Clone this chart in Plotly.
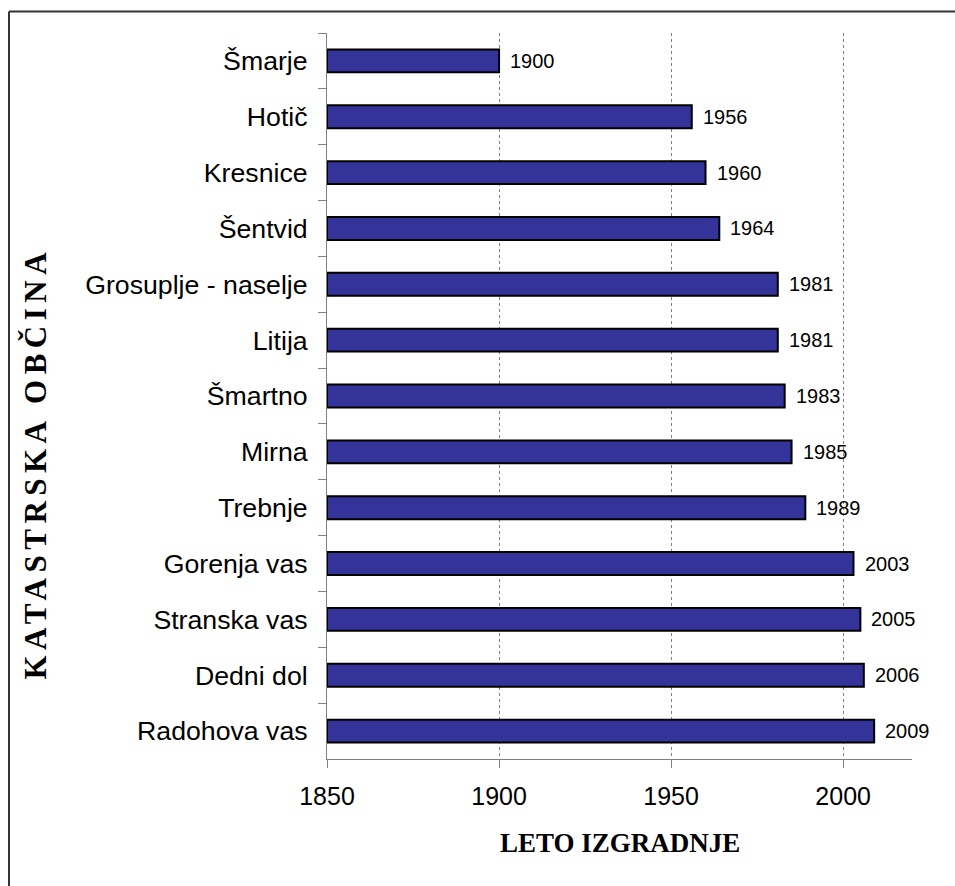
import plotly.graph_objects as go

# Cadastral municipalities, top to bottom, with year of construction
obcine = ["Šmarje", "Hotič", "Kresnice", "Šentvid", "Grosuplje - naselje",
          "Litija", "Šmartno", "Mirna", "Trebnje", "Gorenja vas",
          "Stranska vas", "Dedni dol", "Radohova vas"]
leta = [1900, 1956, 1960, 1964, 1981, 1981, 1983, 1985, 1989, 2003,
        2005, 2006, 2009]
x_ticks = [1850, 1900, 1950, 2000]
x_min, x_max = 1850, 2020

W, H = 955, 886
ML, MR, MT, MB = 327, 43, 33, 127
PW, PH = W - ML - MR, H - MT - MB


def px_x(p):
    return (p - ML) / PW


def px_y(p):
    return (H - MB - p) / PH


fig = go.Figure()
fig.add_trace(go.Bar(
    y=obcine,
    x=[v - x_min for v in leta],
    base=[x_min] * len(leta),
    orientation="h",
    marker=dict(color="#333399", line=dict(color="black", width=2)),
    hoverinfo="skip",
))

# value labels to the right of each bar
for name, v in zip(obcine, leta):
    fig.add_annotation(x=v, y=name, text=str(v), showarrow=False,
                       xanchor="left", xshift=9,
                       font=dict(family="Liberation Sans", size=20, color="black"))

# axis titles
fig.add_annotation(xref="paper", yref="paper", x=px_x(620), y=px_y(860),
                   text="<b>LETO IZGRADNJE</b>", showarrow=False,
                   font=dict(family="Liberation Serif", size=27, color="black"))
fig.add_annotation(xref="paper", yref="paper", x=px_x(15), y=px_y(463),
                   text='<b><span style="letter-spacing:5.5px">KATASTRSKA OBČINA</span></b>',
                   showarrow=False, textangle=-90,
                   font=dict(family="Liberation Serif", size=31, color="black"))

# outer frame (left and top edges)
fig.add_shape(type="line", xref="paper", yref="paper",
              x0=px_x(9), y0=px_y(11.5), x1=px_x(W + 5), y1=px_y(11.5),
              line=dict(color="#333333", width=2))
fig.add_shape(type="line", xref="paper", yref="paper",
              x0=px_x(9), y0=px_y(11.5), x1=px_x(9), y1=px_y(H + 5),
              line=dict(color="#333333", width=2))

fig.update_layout(
    width=W, height=H,
    margin=dict(l=ML, r=MR, t=MT, b=MB, pad=0),
    paper_bgcolor="white", plot_bgcolor="white",
    bargap=0.59,
    showlegend=False,
    font=dict(family="Liberation Sans", color="black"),
)
fig.update_xaxes(
    range=[x_min, x_max], tickvals=x_ticks,
    showgrid=True, gridcolor="#808080", griddash="dot", gridwidth=1,
    showline=True, linecolor="#808080", linewidth=1,
    ticks="outside", ticklen=8, tickcolor="#808080",
    ticklabelstandoff=7,
    tickfont=dict(family="Liberation Sans", size=25, color="black"),
    zeroline=False,
)
fig.update_yaxes(
    type="category", categoryorder="array", categoryarray=obcine,
    autorange="reversed",
    showline=True, linecolor="#808080", linewidth=1,
    ticks="outside", ticklen=8, tickcolor="#808080", tickson="boundaries",
    ticklabelstandoff=13,
    tickfont=dict(family="Liberation Sans", size=26.7, color="black"),
    showgrid=False,
)

fig.write_html("out.html")
